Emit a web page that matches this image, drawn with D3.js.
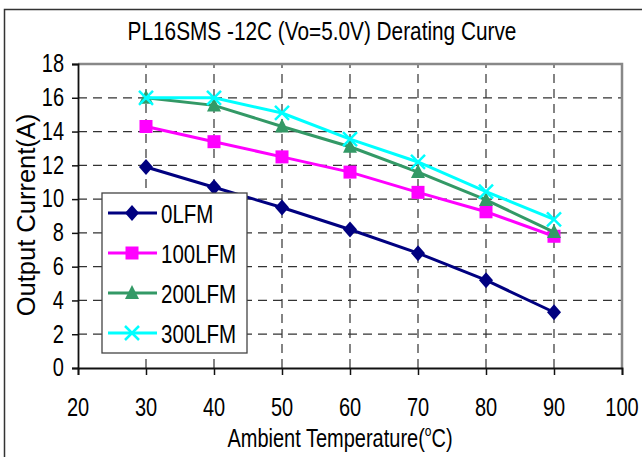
<!DOCTYPE html>
<html>
<head>
<meta charset="utf-8">
<script src="https://cdn.jsdelivr.net/npm/d3@7"></script>
<style>
  html, body { margin: 0; padding: 0; background: #fff; }
  svg { display: block; font-family: "Liberation Sans", Arial, sans-serif; }
</style>
</head>
<body>
<div id="chart"></div>
<script>
// data
const temps = [30, 40, 50, 60, 70, 80, 90];
const seriesNames = ['0LFM', '100LFM', '200LFM', '300LFM'];
const lfm0 = [11.9, 10.7, 9.5, 8.2, 6.8, 5.2, 3.3];
const lfm100 = [14.3, 13.4, 12.5, 11.6, 10.4, 9.25, 7.8];
const lfm200 = [16.0, 15.55, 14.3, 13.1, 11.6, 9.95, 8.05];
const lfm300 = [16.0, 16.0, 15.1, 13.55, 12.2, 10.45, 8.8];
const xTicks = [20, 30, 40, 50, 60, 70, 80, 90, 100];
const yTicks = [0, 2, 4, 6, 8, 10, 12, 14, 16, 18];

const W = 642, H = 457;
const colors = ['#000080', '#ff00ff', '#339966', '#00ffff'];
const shapes = ['diamond', 'square', 'triangle', 'cross'];
const allSeries = [lfm0, lfm100, lfm200, lfm300];

const svg = d3.select('#chart').append('svg').attr('width', W).attr('height', H);

const x = d3.scaleLinear().domain([20, 100]).range([78, 622]);
const y = d3.scaleLinear().domain([0, 18]).range([368, 64]);

// narrow text like the original (condensed Arial look)
function label(g, tx, ty, str, size, sx, anchor) {
  return g.append('text')
    .attr('transform', 'translate(' + tx + ',' + ty + ') scale(' + sx + ',1)')
    .attr('font-size', size)
    .attr('text-anchor', anchor || 'middle')
    .attr('dominant-baseline', 'central')
    .attr('fill', '#000')
    .text(str);
}

// outer chart border (cut at right/bottom)
svg.append('rect').attr('x', 4.5).attr('y', 9.5).attr('width', 700).attr('height', 500)
  .attr('fill', 'none').attr('stroke', '#333').attr('stroke-width', 1.5);

label(svg, 322, 31, 'PL16SMS -12C (Vo=5.0V) Derating Curve', 26, 0.8);

// grid
const grid = svg.append('g').attr('stroke', '#333').attr('stroke-width', 1.2)
  .attr('stroke-dasharray', '9,6');
grid.selectAll('.hg').data(yTicks.filter(d => d > 0 && d < 18)).enter().append('line')
  .attr('x1', x(20)).attr('x2', x(100)).attr('y1', d => y(d)).attr('y2', d => y(d));
grid.selectAll('.vg').data(xTicks.filter(d => d > 20 && d < 100)).enter().append('line')
  .attr('y1', y(0)).attr('y2', y(18)).attr('x1', d => x(d)).attr('x2', d => x(d));

// top/right frame
svg.append('path')
  .attr('d', 'M' + x(20) + ',' + y(18) + 'H' + x(100) + 'V' + y(0))
  .attr('fill', 'none').attr('stroke', '#888').attr('stroke-width', 2.5);

// axes
const xAxis = svg.append('g').attr('transform', 'translate(0,' + y(0) + ')')
  .call(d3.axisBottom(x).tickValues(xTicks).tickSize(7).tickFormat(''));
const yAxis = svg.append('g').attr('transform', 'translate(' + x(20) + ',0)')
  .call(d3.axisLeft(y).tickValues(yTicks).tickSize(6).tickFormat(''));
[xAxis, yAxis].forEach(a => {
  a.select('.domain').attr('stroke', '#111').attr('stroke-width', 1.8);
  a.selectAll('.tick line').attr('stroke', '#111').attr('stroke-width', 1.5);
});

xTicks.forEach(t => label(svg, x(t), 408, t, 25, 0.8));
yTicks.forEach(t => label(svg, 64, y(t), t, 25, 0.8, 'end'));

// axis titles
const xt = svg.append('text')
  .attr('transform', 'translate(340,438) scale(0.8,1)')
  .attr('font-size', 25).attr('text-anchor', 'middle').attr('dominant-baseline', 'central');
xt.append('tspan').text('Ambient Temperature(');
xt.append('tspan').attr('font-size', 15).attr('dy', -8).text('o');
xt.append('tspan').attr('dy', 8).text('C)');

svg.append('text')
  .attr('transform', 'translate(26,215) rotate(-90)')
  .attr('font-size', 25.5).attr('text-anchor', 'middle').attr('dominant-baseline', 'central')
  .text('Output Current(A)');

function marker(g, shape, color, cx, cy) {
  if (shape === 'diamond') {
    g.append('path').attr('d', 'M' + cx + ',' + (cy - 8) + 'L' + (cx + 7) + ',' + cy + 'L' + cx + ',' + (cy + 8) + 'L' + (cx - 7) + ',' + cy + 'Z')
      .attr('fill', color);
  } else if (shape === 'square') {
    g.append('rect').attr('x', cx - 6.5).attr('y', cy - 6.5).attr('width', 13).attr('height', 13).attr('fill', color);
  } else if (shape === 'triangle') {
    g.append('path').attr('d', 'M' + cx + ',' + (cy - 8) + 'L' + (cx + 7) + ',' + (cy + 6) + 'L' + (cx - 7) + ',' + (cy + 6) + 'Z')
      .attr('fill', color);
  } else {
    g.append('path').attr('d', 'M' + (cx - 7) + ',' + (cy - 7) + 'L' + (cx + 7) + ',' + (cy + 7) + 'M' + (cx + 7) + ',' + (cy - 7) + 'L' + (cx - 7) + ',' + (cy + 7))
      .attr('stroke', color).attr('stroke-width', 2.5).attr('fill', 'none');
  }
}

const line = d3.line().x((d, i) => x(temps[i])).y(d => y(d));
allSeries.forEach((vals, si) => {
  const g = svg.append('g');
  g.append('path').datum(vals).attr('d', line)
    .attr('fill', 'none').attr('stroke', colors[si]).attr('stroke-width', 3);
  vals.forEach((v, i) => marker(g, shapes[si], colors[si], x(temps[i]), y(v)));
});

// legend
const lg = svg.append('g');
lg.append('rect').attr('x', 102).attr('y', 193).attr('width', 145).attr('height', 160)
  .attr('fill', '#fff').attr('stroke', '#444').attr('stroke-width', 1.3);
seriesNames.forEach((name, i) => {
  const ly = 213 + i * 40;
  lg.append('line').attr('x1', 108).attr('x2', 157).attr('y1', ly).attr('y2', ly)
    .attr('stroke', colors[i]).attr('stroke-width', 3);
  marker(lg, shapes[i], colors[i], 132, ly);
  label(lg, 161, ly + 1, name, 25, 0.82, 'start');
});
</script>
</body>
</html>
